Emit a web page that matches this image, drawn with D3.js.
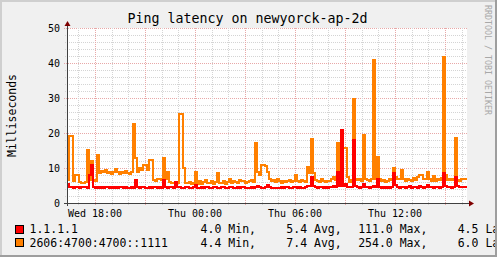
<!DOCTYPE html>
<html>
<head>
<meta charset="utf-8" />
<script src="https://d3js.org/d3.v7.min.js"></script>
<style>
  body { margin: 0; background: #f0f0f0; }
  svg { display: block; }
  svg text { font-family: "DejaVu Sans Mono", monospace; fill: #000; }
</style>
</head>
<body>
<div id="chart"></div>
<script>
// series names, colours and summary stats (as printed in the legend)
const seriesNames = ["1.1.1.1", "2606:4700:4700::1111"];
const seriesColors = ["#ff0000", "#ff8000"];
const statLabels = ["Min,", "Avg,", "Max,", "Last"];
const stats4 = [4.0, 5.4, 111.0, 4.5];
const stats6 = [4.4, 7.4, 254.0, 6.0];
const yTicks = [0, 10, 20, 30, 40, 50];

// latency samples (ms), one per consolidated step
const ping4 = [5.5,4.6,4.5,4.4,4.6,4.5,4.4,4.5,4.6,4.5,
  4.4,8.0,11.0,4.6,4.4,4.5,4.4,4.5,4.3,4.6,
  4.5,4.4,4.5,4.3,4.5,4.4,4.5,4.6,4.4,4.5,
  4.4,4.3,4.5,4.4,6.6,4.5,4.4,4.6,4.5,4.4,
  4.3,4.5,4.4,4.5,4.6,4.4,4.5,4.4,6.6,4.5,
  4.4,4.6,4.5,4.4,6.1,4.6,4.5,4.4,4.3,4.5,
  4.6,4.4,4.3,4.5,5.2,4.4,4.3,4.5,4.4,4.6,
  4.5,4.3,4.4,4.6,4.5,4.3,4.4,4.7,4.5,4.3,
  4.4,4.6,4.5,4.4,4.3,4.5,4.4,4.6,4.5,4.4,
  4.3,4.4,4.5,4.4,4.6,4.8,4.5,4.3,4.4,4.5,
  5.2,4.5,4.4,4.3,4.4,4.2,4.3,4.5,4.4,4.6,
  4.5,4.3,4.4,4.5,4.6,4.4,4.5,4.3,4.4,4.5,
  4.8,5.0,7.4,5.0,4.6,4.4,4.5,4.6,4.4,4.5,
  4.4,4.6,4.5,5.0,4.6,9.0,5.0,21.0,4.8,5.5,
  4.6,4.5,4.6,18.0,4.8,4.5,4.4,4.6,5.5,4.6,
  4.5,4.4,4.6,5.0,4.6,7.0,4.6,4.4,4.5,4.3,
  4.5,4.4,4.6,8.5,5.2,4.6,4.4,4.6,4.5,4.4,
  4.5,5.0,4.4,4.5,4.6,4.4,5.0,4.6,4.4,4.5,
  5.2,4.5,4.6,4.4,4.5,4.6,4.4,4.5,8.5,5.0,
  4.5,4.6,4.4,4.5,7.5,4.8,4.5,4.6,4.5,4.5];

const ping6 = [6.6,19.1,19.1,6.2,8.0,8.0,6.0,5.8,5.8,6.0,
  15.1,6.6,12.0,6.5,6.4,13.7,8.5,9.2,8.8,9.5,
  8.6,9.0,8.4,9.0,9.6,8.8,8.3,8.9,8.5,9.2,
  8.7,8.4,9.0,22.6,13.0,9.0,10.0,9.5,10.9,10.9,
  9.5,12.3,12.3,6.6,6.2,6.8,7.0,6.5,12.9,6.8,
  8.9,6.0,5.6,5.8,5.6,5.8,25.4,25.4,10.0,5.8,
  5.6,6.0,5.5,5.7,9.0,5.5,6.2,5.4,6.0,6.5,
  5.6,5.8,6.3,5.5,6.0,8.6,5.6,5.8,6.3,5.5,
  6.0,6.8,5.7,6.4,6.0,5.6,6.5,6.2,6.4,5.8,
  6.0,6.2,6.6,6.0,17.1,9.0,8.0,10.9,10.9,10.5,
  9.0,7.0,6.2,6.6,6.0,6.9,6.3,5.8,6.4,6.0,
  6.2,6.5,6.0,6.2,8.0,6.2,6.0,6.5,6.3,6.0,
  10.3,8.5,18.3,8.5,6.6,6.3,6.0,6.8,6.2,6.0,
  6.4,6.2,6.8,7.5,6.5,17.2,8.8,8.0,15.7,15.7,
  7.5,6.0,6.5,29.7,7.0,6.5,6.8,6.4,19.4,7.0,
  6.6,6.3,6.8,40.9,7.0,13.2,6.8,6.2,6.6,6.0,
  6.4,6.8,6.5,10.0,7.5,7.0,6.8,9.4,6.8,6.4,
  7.0,6.5,6.2,7.2,6.6,7.5,8.0,8.0,6.9,7.0,
  9.0,7.0,6.4,7.8,6.3,6.8,6.5,7.2,41.7,8.0,
  6.5,7.0,6.6,6.8,18.6,6.6,6.2,7.0,6.8,7.0];

const width = 497, height = 257;
const start = new Date(2024, 0, 10, 16, 19, 12);   // a Wednesday
const end = new Date(start.getTime() + 24 * 3600 * 1000);
const step = (end - start) / ping4.length;

const x = d3.scaleTime().domain([start, end]).range([67, 467]);
const y = d3.scaleLinear().domain([0, 50]).range([203, 28]);

const svg = d3.select("#chart").append("svg")
  .attr("width", width)
  .attr("height", height);

svg.append("rect").attr("width", width).attr("height", height).attr("fill", "#f0f0f0");
svg.append("rect")
  .attr("x", 67).attr("y", 28)
  .attr("width", 400).attr("height", 175)
  .attr("fill", "#ffffff");

const grid = svg.append("g").attr("shape-rendering", "crispEdges");

// horizontal grid
d3.range(2, 51, 2).forEach(v => {
  const major = v % 10 === 0;
  const py = Math.round(y(v)) + 0.5;
  grid.append("line")
    .attr("x1", major ? 64 : 65).attr("x2", 467)
    .attr("y1", py).attr("y2", py)
    .attr("stroke", major ? "#e8a8a8" : "#d4d4d4")
    .attr("stroke-dasharray", "1,1");
});

// vertical grid
x.ticks(d3.timeHour.every(1)).forEach(t => {
  const major = t.getHours() % 3 === 0;
  const px = Math.round(x(t)) + 0.5;
  grid.append("line")
    .attr("x1", px).attr("x2", px)
    .attr("y1", 28).attr("y2", major ? 206 : 205)
    .attr("stroke", major ? "#e8a8a8" : "#d4d4d4")
    .attr("stroke-dasharray", "1,1");
});

// series, orange first, red on top
const line = d3.line()
  .x(d => x(d.t))
  .y(d => y(d.v))
  .curve(d3.curveStepAfter);

function toPoints(values) {
  const pts = values.map((v, i) => ({ t: new Date(start.getTime() + i * step), v: v }));
  pts.push({ t: end, v: values[values.length - 1] });
  return pts;
}

[[ping6, seriesColors[1]], [ping4, seriesColors[0]]].forEach(([vals, c]) => {
  svg.append("path")
    .datum(toPoints(vals))
    .attr("d", line)
    .attr("fill", "none")
    .attr("stroke", c)
    .attr("stroke-width", 2)
    .attr("stroke-linejoin", "miter")
    .attr("shape-rendering", "crispEdges");
});

// axes
const axis = svg.append("g").attr("shape-rendering", "crispEdges");
axis.append("line").attr("x1", 64).attr("x2", 470).attr("y1", 203.5).attr("y2", 203.5).attr("stroke", "#404040");
axis.append("line").attr("x1", 67.5).attr("x2", 67.5).attr("y1", 206).attr("y2", 25).attr("stroke", "#404040");
svg.append("path").attr("d", "M469,200.5L474,203.5L469,206.5Z").attr("fill", "#7f0000");
svg.append("path").attr("d", "M64.5,26L67.5,21L70.5,26Z").attr("fill", "#7f0000");

// y tick labels
svg.selectAll(".ylab").data(yTicks).enter().append("text")
  .attr("x", 60)
  .attr("y", d => y(d) + 3.7)
  .attr("text-anchor", "end")
  .attr("font-size", "10px")
  .text(d => d);

// x tick labels
const fmt = d3.timeFormat("%a %H:%M");
svg.selectAll(".xlab").data(x.ticks(d3.timeHour.every(6))).enter().append("text")
  .attr("x", d => x(d))
  .attr("y", 216.5)
  .attr("text-anchor", "middle")
  .attr("font-size", "10px")
  .text(d => fmt(d));

// title and y label
svg.append("text")
  .attr("x", 247.5).attr("y", 22.7)
  .attr("text-anchor", "middle")
  .attr("font-size", "13.3px")
  .text("Ping latency on newyorck-ap-2d");

svg.append("text")
  .attr("transform", "translate(16,115.5) rotate(-90)")
  .attr("text-anchor", "middle")
  .attr("font-size", "11.5px")
  .text("Milliseconds");

svg.append("text")
  .attr("transform", "translate(484.5,5) rotate(90)")
  .attr("font-size", "8.3px")
  .style("fill", "#a8a8a8")
  .text("RRDTOOL / TOBI OETIKER");

// legend
const charW = 6.92;
const labelX = [228.3, 314, 399.7, 485.4];
[stats4, stats6].forEach((st, r) => {
  const base = 233.3 + r * 13.4;
  svg.append("rect")
    .attr("x", 15.5).attr("y", base - 8)
    .attr("width", 8).attr("height", 8)
    .attr("fill", seriesColors[r])
    .attr("stroke", "#000")
    .attr("shape-rendering", "crispEdges");
  svg.append("text")
    .attr("x", 29.5).attr("y", base)
    .attr("font-size", "11.5px")
    .text(seriesNames[r]);
  st.forEach((v, k) => {
    svg.append("text")
      .attr("x", labelX[k] - charW).attr("y", base)
      .attr("text-anchor", "end")
      .attr("font-size", "11.5px")
      .text(v.toFixed(1));
    svg.append("text")
      .attr("x", labelX[k]).attr("y", base)
      .attr("font-size", "11.5px")
      .text(statLabels[k]);
  });
});

// 3D frame
const frame = svg.append("g").attr("shape-rendering", "crispEdges");
frame.append("rect").attr("x", 0).attr("y", 0).attr("width", width).attr("height", 2).attr("fill", "#cfcfcf");
frame.append("rect").attr("x", 0).attr("y", 0).attr("width", 2).attr("height", height).attr("fill", "#cfcfcf");
frame.append("rect").attr("x", 0).attr("y", height - 2).attr("width", width).attr("height", 2).attr("fill", "#9e9e9e");
frame.append("rect").attr("x", width - 2).attr("y", 0).attr("width", 2).attr("height", height).attr("fill", "#9e9e9e");
</script>
</body>
</html>
